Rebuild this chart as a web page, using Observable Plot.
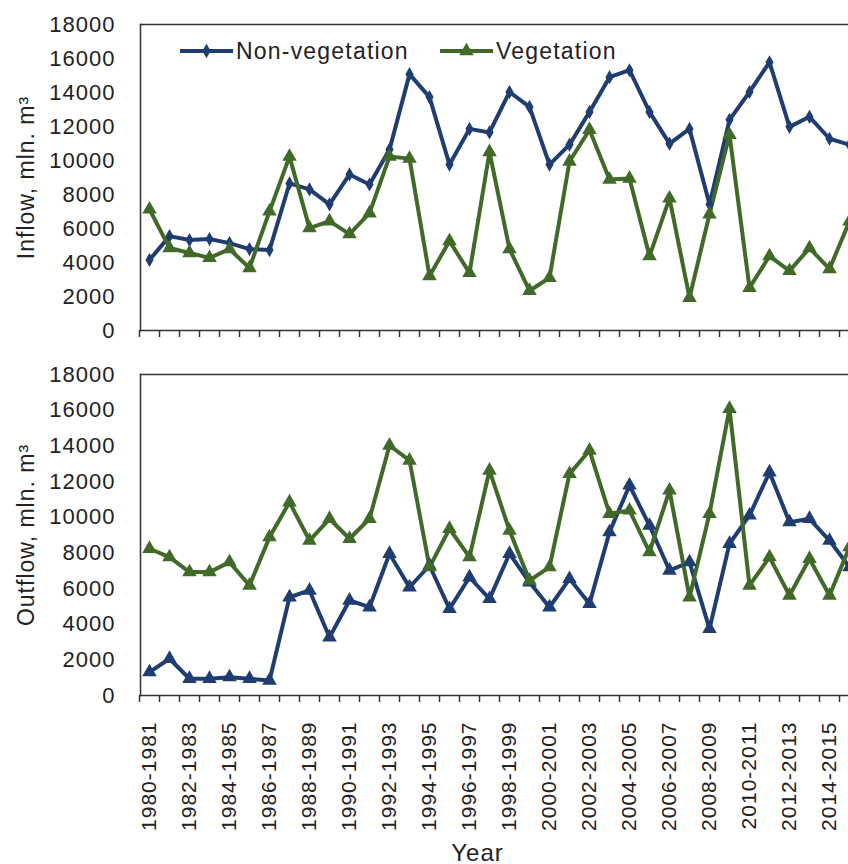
<!DOCTYPE html>
<html><head><meta charset="utf-8">
<script src="https://cdn.jsdelivr.net/npm/d3@7"></script>
<script src="https://cdn.jsdelivr.net/npm/@observablehq/plot@0.6"></script>
<style>
body{margin:0;background:#fff;}
#chart{width:848px;height:864px;position:relative;overflow:hidden;background:#fff;}
#chart svg{display:block;}
</style></head><body><div id="chart"></div>
<script>
const years = ["1980-1981","1981-1982","1982-1983","1983-1984","1984-1985","1985-1986","1986-1987","1987-1988","1988-1989","1989-1990","1990-1991","1991-1992","1992-1993","1993-1994","1994-1995","1995-1996","1996-1997","1997-1998","1998-1999","1999-2000","2000-2001","2001-2002","2002-2003","2003-2004","2004-2005","2005-2006","2006-2007","2007-2008","2008-2009","2009-2010","2010-2011","2011-2012","2012-2013","2013-2014","2014-2015","2015-2016"];
const xTickLabels = ["1980-1981","1982-1983","1984-1985","1986-1987","1988-1989","1990-1991","1992-1993","1994-1995","1996-1997","1998-1999","2000-2001","2002-2003","2004-2005","2006-2007","2008-2009","2010-2011","2012-2013","2014-2015"];
const yTicks = [0,2000,4000,6000,8000,10000,12000,14000,16000,18000];

const inflowNonVeg = [4150,5550,5320,5380,5140,4790,4730,8650,8300,7420,9180,8590,10640,15080,13730,9760,11860,11650,14030,13150,9760,10930,12860,14900,15310,12860,10990,11860,7420,12390,14030,15780,11980,12570,11280,10930];
const inflowVeg = [7130,4850,4560,4270,4790,3680,7010,10230,6020,6430,5670,6900,10230,10110,3210,5260,3390,10500,4790,2340,3100,9940,11810,8880,8940,4380,7770,1930,6840,11510,2510,4380,3510,4850,3620,6430];
const outflowNonVeg = [1310,2060,940,940,1030,940,840,5510,5890,3270,5330,4950,7950,6070,7290,4860,6630,5420,7950,6350,4950,6540,5140,9160,11780,9530,7010,7480,3740,8510,10100,12520,9720,9910,8690,7200];
const outflowVeg = [8230,7760,6920,6920,7480,6170,8880,10840,8690,9910,8790,9910,14020,13180,7200,9350,7760,12620,9250,6450,7200,12430,13740,10190,10380,8040,11500,5510,10190,16080,6170,7760,5610,7670,5610,8320];

const seriesNames = ["Non-vegetation","Vegetation"];
const blue = "#1f3d70";
const green = "#416a28";
const ink = "#222";
const frameColor = "#333";

function tidy(values){ return values.map((v,i)=>({year: years[i], value: v})); }

function panel({a, b, height, marginTop, marginBottom, title, symbolA, rA, labels}){
  const marks = [
    Plot.frame({anchor:"left", stroke: frameColor, strokeWidth: 1.5}),
    Plot.frame({anchor:"top", stroke: frameColor, strokeWidth: 1.5}),
    Plot.frame({anchor:"bottom", stroke: frameColor, strokeWidth: 1.5}),
    Plot.axisY({ticks: yTicks, tickSize: 0, tickPadding: 25, tickFormat: d => String(d), label: null, fill: ink}),
    Plot.axisX({ticks: years, tickSize: 7, tickFormat: () => "", dx: -10, label: null, stroke: frameColor, strokeWidth: 1.5}),
    Plot.lineY(tidy(a), {x: "year", y: "value", stroke: blue, strokeWidth: 4, strokeLinejoin: "miter"}),
    Plot.lineY(tidy(b), {x: "year", y: "value", stroke: green, strokeWidth: 4, strokeLinejoin: "miter"}),
    Plot.dot(tidy(a), {x: "year", y: "value", symbol: symbolA, r: rA, fill: blue, stroke: "none"}),
    Plot.dot(tidy(b), {x: "year", y: "value", symbol: "triangle", r: 5.4, fill: green, stroke: "none"}),
    Plot.text([title], {frameAnchor: "left", textAnchor: "middle", lineAnchor: "middle", rotate: -90, dx: -114, fill: ink, fontSize: 23, text: d => d, style: "letter-spacing:1.6px"})
  ];
  if (labels) {
    marks.push(Plot.axisX({ticks: xTickLabels, tickSize: 0, tickPadding: 26, tickRotate: -90, fontSize: 21, label: null, fill: ink}));
    marks.push(Plot.text(["Year"], {frameAnchor: "bottom", textAnchor: "middle", lineAnchor: "bottom", dy: 165, dx: -17, fill: ink, fontSize: 24, text: d => d}));
  }
  return Plot.plot({
    width: 848,
    height,
    marginTop,
    marginBottom,
    marginLeft: 140,
    marginRight: 0,
    style: {fontFamily: "'Liberation Sans', Arial, sans-serif", fontSize: "22px", letterSpacing: "1px", color: ink, background: "#fff"},
    x: {type: "point", domain: years, range: [149, 849], padding: 0, axis: null},
    y: {domain: [0, 18000], axis: null},
    marks
  });
}

const topChart = panel({a: inflowNonVeg, b: inflowVeg, height: 345, marginTop: 24, marginBottom: 15, title: "Inflow, mln. m³", symbolA: "diamond", rA: 4.3, labels: false});
const bottomChart = panel({a: outflowNonVeg, b: outflowVeg, height: 519, marginTop: 29, marginBottom: 169, title: "Outflow, mln. m³", symbolA: "triangle", rA: 5.4, labels: true});

const root = document.getElementById("chart");
root.appendChild(topChart);
root.appendChild(bottomChart);

// legend inside top panel
const svg = d3.select(topChart);
const lg = svg.append("g").attr("font-family", "'Liberation Sans', Arial, sans-serif").attr("font-size", 23).attr("fill", ink).attr("text-anchor", "start").style("letter-spacing", "1.2px");
const legendItems = [
  {name: seriesNames[0], color: blue, x0: 180, x1: 233, sym: d3.symbolDiamond, size: 60, tx: 236},
  {name: seriesNames[1], color: green, x0: 440, x1: 493, sym: d3.symbolTriangle, size: 90, tx: 496}
];
legendItems.forEach(it => {
  lg.append("line").attr("x1", it.x0).attr("x2", it.x1).attr("y1", 51).attr("y2", 51).attr("stroke", it.color).attr("stroke-width", 4);
  lg.append("path").attr("d", d3.symbol(it.sym, it.size)()).attr("transform", `translate(${(it.x0+it.x1)/2},51)`).attr("fill", it.color);
  lg.append("text").attr("x", it.tx).attr("y", 51).attr("dy", "0.35em").attr("text-anchor", "start").text(it.name);
});
</script></body></html>
